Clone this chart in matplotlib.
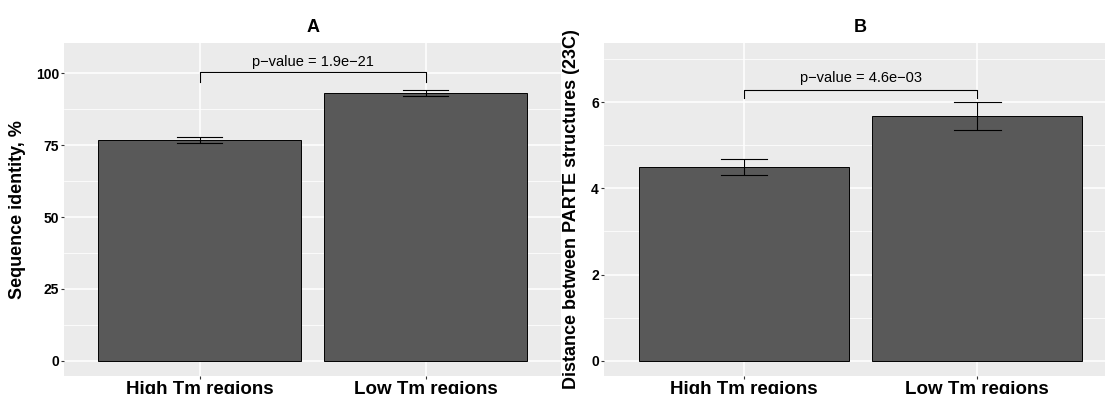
import numpy as np
import matplotlib.pyplot as plt
from matplotlib.ticker import MultipleLocator

plt.rcParams['font.family'] = ['Liberation Sans', 'DejaVu Sans']

categories = ["High Tm regions", "Low Tm regions"]
identity_mean = [76.8, 93.1]
identity_err = [1.15, 1.05]
distance_mean = [4.5, 5.68]
distance_err = [0.19, 0.325]
pvalues = ["1.9e\u221221", "4.6e\u221203"]
bracket_a = [96.9, 100.6]   # tip bottom, bar top
bracket_b = [6.107, 6.285]

fig = plt.figure(figsize=(11.05, 3.94), dpi=100)

def style(ax, xlim, ylim, major, minor):
    ax.set_facecolor('#EBEBEB')
    for s in ax.spines.values():
        s.set_visible(False)
    ax.set_xlim(*xlim)
    ax.set_ylim(*ylim)
    ax.yaxis.set_major_locator(MultipleLocator(major))
    ax.yaxis.set_minor_locator(MultipleLocator(minor))
    ax.grid(which='major', color='white', lw=1.1)
    ax.grid(which='minor', axis='y', color='white', lw=0.55)
    ax.set_axisbelow(True)
    ax.tick_params(axis='y', which='minor', length=0)
    ax.tick_params(which='major', length=2.2, width=0.8, color='#333333', pad=1.5)
    ax.tick_params(axis='y', labelsize=10)
    ax.tick_params(axis='x', labelsize=13.5)
    for lab in ax.get_xticklabels() + ax.get_yticklabels():
        lab.set_fontweight('bold')

def panel(ax, means, errs, pval, br, title, ylabel, ytxt):
    x = np.arange(1, len(means) + 1)
    ax.bar(x, means, width=0.9, color='#595959', edgecolor='black', lw=0.7, zorder=2)
    ax.errorbar(x, means, yerr=errs, fmt='none', ecolor='black', elinewidth=0.8,
                capsize=0, zorder=3)
    for xi, m, e in zip(x, means, errs):
        for yy in (m - e, m + e):
            ax.plot([xi - 0.1, xi + 0.1], [yy, yy], color='black', lw=0.8, zorder=3)
    ax.plot([1, 1, 2, 2], [br[0], br[1], br[1], br[0]], color='black', lw=0.8, zorder=3)
    ax.text(1.5, ytxt, "p\u2212value = " + pval, ha='center', va='baseline', fontsize=10.5)
    ax.set_xticks(x)
    ax.set_xticklabels(categories)
    ax.set_title(title, fontsize=13, fontweight='bold', pad=8)
    ax.set_ylabel(ylabel, fontsize=13, fontweight='bold')

ax1 = fig.add_axes([0.05837, 0.04645, 0.44923, 0.84365])
style(ax1, (0.4, 2.6), (-5.22, 110.48), 25, 12.5)
panel(ax1, identity_mean, identity_err, pvalues[0], bracket_a, "A",
      "Sequence identity, %", 102.7)
ax1.yaxis.set_label_coords(-0.077, 0.5)

# white strip behind the second plot
bg = fig.add_axes([562 / 1105, 0, 1 - 562 / 1105, 1])
bg.set_facecolor('white')
bg.set_xticks([])
bg.set_yticks([])
for s in bg.spines.values():
    s.set_visible(False)

# second panel runs off the right edge, so stop the axes at the border
ax2 = fig.add_axes([0.54670, 0.04645, 1 - 0.54670, 0.84365])
style(ax2, (0.4, 2.5475), (-0.348, 7.369), 2, 1)
panel(ax2, distance_mean, distance_err, pvalues[1], bracket_b, "B",
      "Distance between PARTE structures (23C)", 6.47)
ax2.yaxis.set_label_coords(-0.048, 0.5)
ax2.title.set_position((0.5 * 2.2 / 2.1475, 1))

fig.savefig('out.png', dpi=100)
